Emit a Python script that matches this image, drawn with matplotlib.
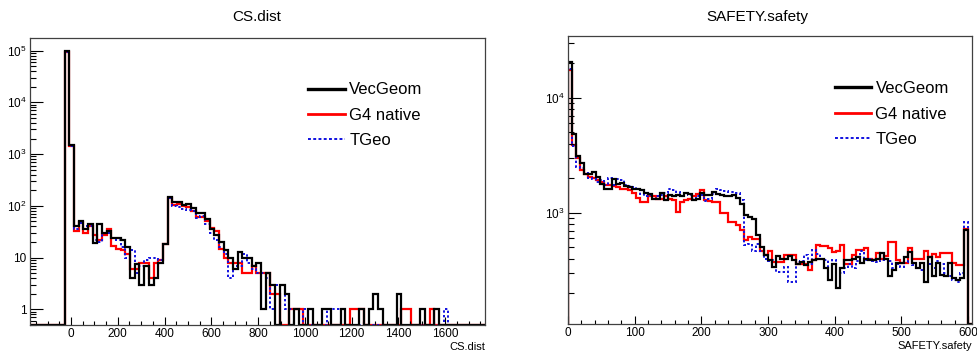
import numpy as np
import matplotlib
matplotlib.use("Agg")
import matplotlib.pyplot as plt
from matplotlib.lines import Line2D
from matplotlib.ticker import MultipleLocator, FixedLocator, FixedFormatter, LogLocator, NullFormatter

plt.rcParams['font.family'] = ['Liberation Sans', 'DejaVu Sans']
plt.rcParams['mathtext.fontset'] = 'custom'
plt.rcParams['mathtext.rm'] = 'Liberation Sans'

# ---- CS.dist : bins of 20, first filled bin starts at -27
cs_lo = -27
cs_width = 20
cs_vecgeom = [100000, 1500, 40, 50, 36, 45, 19, 45, 30, 32,
              24, 24, 22, 16, 4, 7.5, 3, 7, 3, 4,
              8, 18, 150, 120, 118, 105, 110, 90, 72, 72,
              56, 35, 28, 20, 14, 10, 6, 13, 10, 10,
              7, 8, 1, 5, 3, 0, 3, 2, 0, 1,
              0, 0, 1, 0, 0, 1, 1, 0, 0, 1,
              0, 0, 0, 1, 0, 1, 2, 1, 0, 0,
              0, 2, 0, 0, 0, 0, 1, 0, 0, 1,
              0, 0]
cs_g4 = [92000, 1450, 32, 48, 30, 40, 28, 22, 28, 35,
         17, 15, 14, 12, 6, 6, 8, 8, 4, 8,
         9, 18, 140, 105, 110, 100, 95, 78, 62, 60,
         52, 37, 32, 15, 10, 8, 8, 8, 5, 5,
         7, 5, 5, 5, 2, 2, 0, 0, 1, 1,
         1, 0, 0, 0, 0, 0, 0, 0, 0, 0,
         0, 1, 1, 1, 0, 0, 0, 0, 0, 0,
         0, 0, 1, 1, 0, 0, 0, 0, 1, 0,
         0, 0]
cs_tgeo = [95000, 1450, 36, 47, 40, 40, 22, 20, 30, 30,
           24, 22, 16, 10, 14, 5, 7, 9, 10, 10,
           9, 18, 140, 100, 95, 88, 82, 80, 58, 65,
           45, 30, 22, 16, 12, 4, 7, 7, 12, 8,
           6, 5, 5, 4, 1, 3, 3, 1, 1, 1,
           0, 1, 0, 0, 0, 0, 1, 1, 1, 0,
           0, 0, 0, 0, 0, 0, 0, 0, 0, 0,
           0, 0, 0, 0, 0, 0, 0, 0, 0, 0,
           0, 1]

# ---- SAFETY.safety : 100 bins of 6 from 0 to 600
sf_lo = 0
sf_width = 6
sf_vecgeom = [20600, 4800, 3100, 2700, 2170, 2160, 2280, 2060, 1780, 1600,
              1620, 1960, 1780, 1800, 1710, 1690, 1600, 1610, 1590, 1490,
              1450, 1330, 1330, 1480, 1290, 1430, 1390, 1420, 1390, 1480,
              1450, 1300, 1330, 1480, 1420, 1430, 1520, 1450, 1430, 1390,
              1400, 1430, 1350, 1200, 950, 920, 880, 640, 500, 430,
              390, 340, 420, 395, 400, 420, 385, 362, 375, 350,
              375, 385, 395, 400, 330, 263, 362, 224, 330, 389,
              389, 400, 414, 363, 400, 389, 389, 400, 444, 400,
              280, 316, 363, 363, 414, 459, 363, 330, 363, 251,
              414, 280, 363, 288, 280, 363, 269, 260, 270, 705]
sf_g4 = [17400, 3900, 3000, 2350, 2170, 2060, 1990, 1940, 1850, 1740,
         1760, 1710, 1690, 1600, 1600, 1590, 1480, 1350, 1250, 1250,
         1390, 1390, 1330, 1330, 1390, 1330, 1290, 1020, 1250, 1290,
         1330, 1400, 1450, 1590, 1290, 1270, 1250, 1250, 1000, 1000,
         835, 835, 780, 710, 580, 610, 590, 590, 470, 430,
         470, 375, 370, 370, 428, 428, 428, 362, 362, 362,
         316, 385, 524, 510, 510, 490, 455, 465, 524, 362,
         362, 428, 475, 475, 490, 400, 389, 444, 400, 420,
         560, 560, 389, 363, 363, 490, 400, 400, 400, 470,
         414, 440, 414, 444, 444, 444, 363, 351, 351, 720]
sf_tgeo = [17800, 3800, 2510, 2450, 2200, 1990, 1960, 1870, 1940, 1740,
           1990, 1740, 1960, 1940, 1740, 1710, 1690, 1600, 1460, 1390,
           1430, 1330, 1390, 1430, 1480, 1600, 1590, 1530, 1490, 1480,
           1430, 1330, 1390, 1430, 1270, 1330, 1460, 1600, 1590, 1560,
           1530, 1530, 1480, 1300, 520, 540, 470, 540, 470, 400,
           380, 390, 308, 308, 340, 251, 251, 370, 380, 430,
           360, 475, 440, 400, 390, 260, 390, 224, 300, 330,
           360, 330, 380, 470, 390, 400, 380, 370, 390, 400,
           380, 330, 360, 340, 370, 380, 350, 330, 320, 340,
           360, 330, 380, 360, 300, 280, 260, 250, 300, 830]

labels = ["VecGeom", "G4 native", "TGeo"]
colors = ["black", "#ff0000", "#1010e0"]


def padded(lo, width, counts, xmin, xmax):
    counts = np.asarray(counts, dtype=float)
    n_pre = max(0, int(np.ceil((lo - xmin) / width)))
    n_post = max(0, int(np.ceil((xmax - (lo + width * len(counts))) / width)))
    vals = np.concatenate([np.zeros(n_pre), counts, np.zeros(n_post)])
    edges = lo - n_pre * width + width * np.arange(len(vals) + 1)
    return edges, vals


def draw_hists(ax, lo, width, series, xlim, ylim):
    styles = [dict(lw=1.6, ls='-'), dict(lw=1.6, ls='-'), dict(lw=1.4, ls=(0, (1.2, 1.2)))]
    order = [1, 2, 0]  # red, blue dotted, black on top
    for i in order:
        edges, vals = padded(lo, width, series[i], xlim[0], xlim[1])
        vals = np.where(vals > 0, vals, ylim[0])
        ax.stairs(vals, edges, baseline=ylim[0], color=colors[i], **styles[i])
    ax.set_xlim(*xlim)
    ax.set_yscale('log')
    ax.set_ylim(*ylim)


def style_axes(ax):
    ax.tick_params(which='both', direction='in', top=False, right=False, labelsize=8.5, pad=2.5)
    ax.tick_params(axis='y', which='major', length=9, width=0.8)
    ax.tick_params(axis='y', which='minor', length=4.5, width=0.8)
    ax.tick_params(axis='x', which='major', length=6, width=0.8)
    ax.tick_params(axis='x', which='minor', length=3, width=0.8)
    for s in ax.spines.values():
        s.set_linewidth(0.9)
        s.set_color('#404040')
    ax.yaxis.set_minor_locator(LogLocator(base=10, subs=np.arange(2, 10)))
    ax.yaxis.set_minor_formatter(NullFormatter())


def add_legend(ax, anchor):
    handles = [Line2D([], [], color=colors[0], lw=2.4),
               Line2D([], [], color=colors[1], lw=2.0),
               Line2D([], [], color=colors[2], lw=1.4, ls=(0, (1.5, 1.2)))]
    ax.legend(handles, labels, loc='upper left', bbox_to_anchor=anchor, frameon=False,
              fontsize=12, handlelength=2.2, handletextpad=0.25, labelspacing=0.62,
              borderpad=0, borderaxespad=0)


fig = plt.figure(figsize=(9.77, 3.55), dpi=100)

# left panel
ax1 = fig.add_axes([30 / 977, 30 / 355, 455 / 977, 287 / 355])
draw_hists(ax1, cs_lo, cs_width, [cs_vecgeom, cs_g4, cs_tgeo], (-175, 1770), (0.5, 1.75e5))
style_axes(ax1)
ax1.xaxis.set_major_locator(MultipleLocator(200))
ax1.xaxis.set_minor_locator(MultipleLocator(50))
ax1.yaxis.set_major_locator(FixedLocator([1, 10, 100, 1e3, 1e4, 1e5]))
ax1.yaxis.set_major_formatter(FixedFormatter(['1', '10', r'$10^{2}$', r'$10^{3}$', r'$10^{4}$', r'$10^{5}$']))
add_legend(ax1, (0.612, 0.845))
ax1.text(1.0, -0.075, "CS.dist", transform=ax1.transAxes, ha='right', va='center', fontsize=8)

# right panel
ax2 = fig.add_axes([568 / 977, 31 / 355, 404 / 977, 288 / 355])
draw_hists(ax2, sf_lo, sf_width, [sf_vecgeom, sf_g4, sf_tgeo], (0, 606), (108, 3.44e4))
style_axes(ax2)
ax2.xaxis.set_major_locator(MultipleLocator(100))
ax2.xaxis.set_minor_locator(MultipleLocator(20))
ax2.yaxis.set_major_locator(FixedLocator([1e3, 1e4]))
ax2.yaxis.set_major_formatter(FixedFormatter([r'$10^{3}$', r'$10^{4}$']))
add_legend(ax2, (0.66, 0.843))
ax2.text(1.0, -0.075, "SAFETY.safety", transform=ax2.transAxes, ha='right', va='center', fontsize=8)

fig.text(257 / 977, 1 - 17 / 355, "CS.dist", ha='center', va='center', fontsize=11)
fig.text(757 / 977, 1 - 17 / 355, "SAFETY.safety", ha='center', va='center', fontsize=11)

fig.savefig("out.png", dpi=100)
